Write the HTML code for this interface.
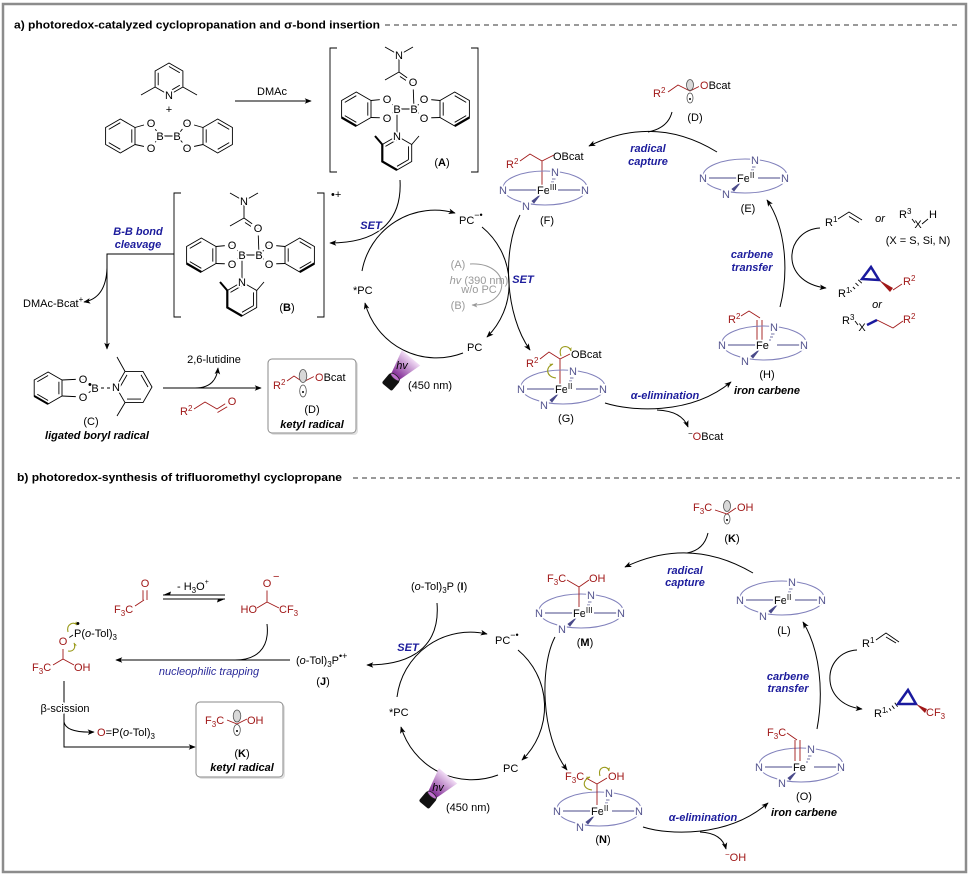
<!DOCTYPE html>
<html><head><meta charset="utf-8">
<style>
html,body{margin:0;padding:0;background:#fff;}
svg{display:block;}
text{font-family:"Liberation Sans",Arial,Helvetica,sans-serif;font-size:11px;fill:#000;}
.h{paint-order:stroke;stroke:#fff;stroke-width:3.5px;stroke-linejoin:round;}
.ho{stroke-width:7px;}
.r{fill:#a01818;}
.sb{fill:#1c1c9c;font-weight:bold;font-style:italic;}
.nb{fill:#55558f;}
.gy{fill:#9a9a9a;}
.bi{font-weight:bold;font-style:italic;}
.b{font-weight:bold;}
.m{text-anchor:middle;}
.e{text-anchor:end;}
</style></head><body>
<svg width="971" height="878" viewBox="0 0 971 878" xmlns="http://www.w3.org/2000/svg">
<defs>
<marker id="ah" viewBox="0 0 10 10" refX="9" refY="5" markerWidth="7" markerHeight="7" markerUnits="userSpaceOnUse" orient="auto"><path d="M0,1 L10,5 L0,9 L2.5,5 Z" fill="#000"/></marker>
<marker id="ahg" viewBox="0 0 10 10" refX="9" refY="5" markerWidth="6" markerHeight="6" markerUnits="userSpaceOnUse" orient="auto"><path d="M0,1 L10,5 L0,9 L2.5,5 Z" fill="#999"/></marker>
<marker id="aho" viewBox="0 0 10 10" refX="9" refY="5" markerWidth="4" markerHeight="4" markerUnits="userSpaceOnUse" orient="auto"><path d="M0,1 L10,5 L0,9 L2.5,5 Z" fill="#9a9a1a"/></marker>
<linearGradient id="cone" x1="0" y1="0" x2="1" y2="0"><stop offset="0" stop-color="#7b2190"/><stop offset="1" stop-color="#f2ddf6"/></linearGradient>
<g id="por" fill="none">
<ellipse cx="0" cy="-2" rx="42" ry="17" stroke="#8080bb" stroke-width="1"/>
<path d="M-36,0 H-8 M13,0 H36" stroke="#4a4a8a" stroke-width="1"/>
<path d="M5,-5 h2 M6,-8 h3 M7,-11 h3.5" stroke="#4a4a8a" stroke-width="0.8"/>
<path d="M-5,5 L-13,11 L-11,13 Z" fill="#4a4a8a" stroke="#4a4a8a" stroke-width="0.8"/>
</g>
<g id="cpx" fill="none" stroke="#000" stroke-width="0.9">
<path d="M399,55 L385,47 M399,55 L413,47 M399,55 L399,72 L385,80 M399,72 L413,82 M400,76.5 L410,83"/>
<path d="M413,82 L414,109 M397,109 L397,136"/>
<path d="M356.3,92 L371,100.5 L371,117.5 L356.3,126 L341.6,117.5 L341.6,100.5 Z"/>
<path d="M344.8,102.4 L356.3,95.7 M367.8,102.4 L367.8,115.6 M356.3,122.3 L344.8,115.6"/>
<path d="M356.3,126 L341.6,117.5" stroke-width="2.2"/>
<path d="M371,100.5 L387,99 L397,109 L387,118 L371,117.5 M397,109 L414,109 M440,100.5 L424,99 L414,109 L424,118 L440,117.5"/>
<path d="M454.7,92 L469.4,100.5 L469.4,117.5 L454.7,126 L440,117.5 L440,100.5 Z"/>
<path d="M443.2,115.6 L443.2,102.4 M454.7,95.7 L466.2,102.4 M466.2,115.6 L454.7,122.3"/>
<path d="M469.4,117.5 L454.7,126" stroke-width="2.2"/>
<path d="M397,136 L411.7,144.5 L411.7,161.5 L397,170 L382.3,161.5 L382.3,144.5 Z"/>
<path d="M408.5,146.4 L408.5,159.6 M385.5,146.4 L397,139.7 M397,166.3 L408.5,159.6"/>
<path d="M382.3,144.5 L382.3,161.5 L397,170" stroke-width="2.2"/>
<path d="M382.3,144.5 L375,136" stroke-width="2"/>
<path d="M411.7,144.5 L419,136"/>
</g>
</defs>

<rect x="3" y="4" width="963" height="868" fill="#fff" stroke="#8c8c8c" stroke-width="2.5"/>

<!-- titles -->
<text x="14" y="28.5" class="b" textLength="366" lengthAdjust="spacingAndGlyphs">a) photoredox-catalyzed cyclopropanation and σ-bond insertion</text>
<line x1="385" y1="25" x2="960" y2="25" stroke="#333" stroke-width="1" stroke-dasharray="5,4"/>
<text x="17" y="481" class="b" textLength="325" lengthAdjust="spacingAndGlyphs">b) photoredox-synthesis of trifluoromethyl cyclopropane</text>
<line x1="353" y1="478" x2="960" y2="478" stroke="#333" stroke-width="1" stroke-dasharray="5,4"/>

<!-- ===== PART A lines ===== -->
<g fill="none" stroke="#000" stroke-width="0.9">
<path d="M169,63 L182.9,71 L182.9,87 L169,95 L155.1,87 L155.1,71 Z"/>
<path d="M169,66.5 L179.8,72.75 M179.8,85.25 L172,89.8 M158.2,85.25 L158.2,72.75"/>
<path d="M155.1,87 L141,95 M182.9,87 L197,95"/>
<path d="M120.3,119 L135,127.5 L135,144.5 L120.3,153 L105.6,144.5 L105.6,127.5 Z"/>
<path d="M108.8,129.4 L120.3,122.7 M131.8,129.4 L131.8,142.6 M120.3,149.3 L108.8,142.6"/>
<path d="M217.7,119 L232.4,127.5 L232.4,144.5 L217.7,153 L203,144.5 L203,127.5 Z"/>
<path d="M206.2,142.6 L206.2,129.4 M217.7,122.7 L229.2,129.4 M229.2,142.6 L217.7,149.3"/>
<path d="M135,127.5 L151,123 L160,136 L151,148 L135,144.5 M160,136 L177,136 M203,127.5 L187,123 L177,136 L187,148 L203,144.5"/>
<path d="M337,48 H330 V172 H337 M471,48 H478 V172 H471"/>
<path d="M181,193 H174 V317 H181 M317,193 H324 V317 H317"/>
<path d="M48.1,372 L62,380 L62,396 L48.1,404 L34.2,396 L34.2,380 Z"/>
<path d="M37.3,381.75 L48.1,375.5 M58.9,381.75 L58.9,394.25 M48.1,400.5 L37.3,394.25"/>
<path d="M48.1,404 L34.2,396" stroke-width="2"/>
<path d="M62,380 L83,379 L95,388 L83,397 L62,396"/>
<path d="M101,388 L104,388 M107,388 L110,388"/>
<path d="M152,387 L143,371.4 L125,371.4 L116,387 L125,402.6 L143,402.6 Z"/>
<path d="M120,387 L127,374.9 M141,374.9 L148,387 M141,399.1 L127,399.1"/>
<path d="M125,371.4 L117,357 M125,402.6 L117,416"/>
</g>
<use href="#cpx"/>
<use href="#cpx" transform="translate(-155,146)"/>

<!-- red structures part a -->
<g fill="none" stroke="#a01818" stroke-width="0.9">
<path d="M194,409 L205,402 L217,409 L228,402 M217.5,412.5 L228.5,406"/>
<path d="M287,381 L294,376 L303,382 L315,376"/>
<path d="M668,92 L678,85 L690,91 L700,86"/>
<path d="M520,161 L530,154 L542,161 L554,155 M542,161 L542,185"/>
<path d="M540,359 L549,352 L560,359 L570,354 M560,359 L560,384"/>
<path d="M741,316 L749,311 L760,318 M757,320 L757,340 M762,320 L762,340"/>
<path d="M893,290 L902,284 M877,320 L893,328 L903,321"/>
</g>

<!-- orbitals -->
<g stroke="#555" stroke-width="0.8">
<ellipse cx="690" cy="85" rx="3.5" ry="5.5" fill="#d8d8d8"/><ellipse cx="690" cy="98" rx="3" ry="5" fill="#fff"/><circle cx="690" cy="99" r="1" fill="#000" stroke="none"/>
<ellipse cx="727" cy="506" rx="3.5" ry="5.5" fill="#d8d8d8"/><ellipse cx="727" cy="519" rx="3" ry="5" fill="#fff"/><circle cx="727" cy="520" r="1" fill="#000" stroke="none"/>
</g>

<!-- boxes -->
<rect x="270" y="361" width="88" height="74" rx="4" fill="#e2e2e2"/>
<rect x="268" y="359" width="88" height="74" rx="4" fill="#fff" stroke="#8a8a8a" stroke-width="1"/>
<rect x="198" y="704" width="87" height="75" rx="4" fill="#e2e2e2"/>
<rect x="196" y="702" width="87" height="75" rx="4" fill="#fff" stroke="#8a8a8a" stroke-width="1"/>
<g stroke="#a01818" stroke-width="0.9" fill="none">
<path d="M287,381 L294,376 L303,382 L315,376"/>
<path d="M227,720 L237,724 L247,719"/>
<path d="M715,510 L727,514 L736,508"/>
</g>
<ellipse cx="303" cy="376" rx="3.8" ry="6.5" fill="#d8d8d8" stroke="#555" stroke-width="0.8"/><ellipse cx="303" cy="391" rx="3.3" ry="6" fill="#fff" stroke="#555" stroke-width="0.8"/><circle cx="303" cy="392" r="1"/>
<ellipse cx="237" cy="716" rx="3.8" ry="6" fill="#d8d8d8" stroke="#555" stroke-width="0.8"/><ellipse cx="237" cy="730" rx="3.3" ry="5.5" fill="#fff" stroke="#555" stroke-width="0.8"/><circle cx="237" cy="731" r="1"/>

<!-- porphyrins -->
<use href="#por" x="545" y="190"/>
<use href="#por" x="745" y="178"/>
<use href="#por" x="563" y="389"/>
<use href="#por" x="764" y="345"/>
<use href="#por" x="581" y="613"/>
<use href="#por" x="782" y="600"/>
<use href="#por" x="599" y="811"/>
<use href="#por" x="801" y="767"/>

<!-- red structures part b -->
<g fill="none" stroke="#a01818" stroke-width="0.9">
<path d="M567,580 L579,587 L589,580 M579,587 L579,607"/>
<path d="M586,778 L597,784 L607,778 M597,784 L597,805"/>
<path d="M787,733 L797,740 M795,740 L795,761 M800,740 L800,761"/>
<path d="M135,606 L144,600 M143,600 L143,589 M147,600 L147,589"/>
<path d="M267,590 L267,602 L257,608 M267,602 L279,608"/>
<path d="M67,639 L73,635" stroke="#000"/>
<path d="M63,649 L63,659 L53,665 M63,659 L74,665"/>
</g>

<!-- cyclopropanes & alkenes -->
<g fill="none" stroke="#000" stroke-width="0.9">
<path d="M838,219 L849,212 L862,220 M849,216.5 L859,222.5"/>
<path d="M912,219 L915,223 M922,224 L928,219"/>
<path d="M850.3,290.3 L851.7,291.7 M852.9,287 L855.1,289 M855.5,283.1 L858.5,285.9 M858.2,279.8 L861.8,283.2"/>
<path d="M855,321 L858,325"/>
<path d="M876,640 L886,633 L899,642 M886,637 L896,643"/>
<path d="M886.5,711 L887.5,712.5 M889.2,708.3 L891,710.7 M892,705.6 L894.4,708.8 M894.8,702.8 L897.6,706.8"/>
</g>
<path d="M862,279 L871,267 L879,280 Z" fill="none" stroke="#1a1a9e" stroke-width="2.5" stroke-linejoin="miter"/>
<path d="M867,325 L877,320" stroke="#1a1a9e" stroke-width="2.5"/>
<polygon points="879,280 893,288 890,292" fill="#a01818"/>
<path d="M898,704 L908,690 L916,704 Z" fill="none" stroke="#1a1a9e" stroke-width="2.5" stroke-linejoin="miter"/>
<polygon points="916,704 927,709 925,713" fill="#a01818"/>

<!-- ===== ARROWS ===== -->
<g fill="none" stroke="#000" stroke-width="1">
<path d="M235,101 L311,101" marker-end="url(#ah)"/>
<path d="M174,254 L107,254 L107,349" marker-end="url(#ah)"/>
<path d="M107,268 Q106,298 84,302" marker-end="url(#ah)"/>
<path d="M163,388 L261,388" marker-end="url(#ah)"/>
<path d="M195,388 Q216,388 218,368" marker-end="url(#ah)"/>
<path d="M362,271 A74,74 0 0 1 455,213" marker-end="url(#ah)"/>
<path d="M482,227 A74,74 0 0 1 487,337" marker-end="url(#ah)"/>
<path d="M463,353 A74,74 0 0 1 365,303" marker-end="url(#ah)"/>
<path d="M400,180 C402,215 385,243 330,243" marker-end="url(#ah)"/>
<path d="M520,215 C502,250 505,315 530,350" marker-end="url(#ah)"/>
<path d="M717,152 Q655,114 589,146" marker-end="url(#ah)"/>
<path d="M672,112 Q668,128 648,132"/>
<path d="M605,403 C630,411 690,416 731,382" marker-end="url(#ah)"/>
<path d="M657,410 Q682,411 688,427" marker-end="url(#ah)"/>
<path d="M780,307 C789,272 786,228 767,200" marker-end="url(#ah)"/>
<path d="M820,228 C785,230 778,282 826,288" marker-end="url(#ah)"/>
<path d="M290,660 L116,660" marker-end="url(#ah)"/>
<path d="M267,624 C270,650 255,660 235,660"/>
<path d="M64,681 L64,747 L195,747" marker-end="url(#ah)"/>
<path d="M64,722 Q66,733 94,732" marker-end="url(#ah)"/>
<path d="M225,595 L163,595 M163,599 L225,599"/>
<path d="M397,697 A74,74 0 0 1 487,634" marker-end="url(#ah)"/>
<path d="M518,650 A74,74 0 0 1 522,760" marker-end="url(#ah)"/>
<path d="M498,775 A74,74 0 0 1 401,727" marker-end="url(#ah)"/>
<path d="M437,603 C440,640 420,665 367,665" marker-end="url(#ah)"/>
<path d="M555,637 C540,665 540,735 567,770" marker-end="url(#ah)"/>
<path d="M753,573 Q690,536 625,567" marker-end="url(#ah)"/>
<path d="M708,533 Q704,550 687,553"/>
<path d="M643,827 C668,835 728,838 768,803" marker-end="url(#ah)"/>
<path d="M700,832 Q722,833 726,849" marker-end="url(#ah)"/>
<path d="M817,729 C824,692 820,650 803,622" marker-end="url(#ah)"/>
<path d="M857,650 C822,652 818,704 862,709" marker-end="url(#ah)"/>
</g>
<polygon points="163,595 171,591.5 170,595" fill="#000"/>
<polygon points="225,599 217,602.5 218,599" fill="#000"/>
<path d="M470,264 C512,262 512,306 472,305" fill="none" stroke="#999" stroke-width="1" marker-end="url(#ahg)"/>

<!-- olive curved arrows -->
<g fill="none" stroke="#9a9a1a" stroke-width="1.1">
<path d="M561,356 C557,345 569,344 571,351" marker-end="url(#aho)"/>
<path d="M556,378 C546,377 545,367 553,364" marker-end="url(#aho)"/>
<path d="M600,776 C597,766 608,765 609,771" marker-end="url(#aho)"/>
<path d="M592,790 C582,789 582,780 590,777" marker-end="url(#aho)"/>
<path d="M68,632 C66,624 74,621 77,625" marker-end="url(#aho)"/>
<path d="M68,651 C74,652 76,647 74,643" marker-end="url(#aho)"/>
</g>

<!-- flashlights -->
<g transform="translate(395,377) rotate(-50)">
<polygon points="0,-5 25,-12 25,12 0,5" fill="url(#cone)"/>
<rect x="-13" y="-6.5" width="13" height="13" rx="2" fill="#111"/>
<ellipse cx="0" cy="0" rx="2" ry="5.5" fill="#c070d0" stroke="#222" stroke-width="0.8"/>
</g>
<g transform="translate(432,795) rotate(-50)">
<polygon points="0,-5 25,-12 25,12 0,5" fill="url(#cone)"/>
<rect x="-13" y="-6.5" width="13" height="13" rx="2" fill="#111"/>
<ellipse cx="0" cy="0" rx="2" ry="5.5" fill="#c070d0" stroke="#222" stroke-width="0.8"/>
</g>

<!-- ===== TEXT PART A ===== -->
<text x="169" y="99" class="m h">N</text>
<text x="169" y="113" class="m">+</text>
<text x="151" y="127" class="m h ho">O</text><text x="151" y="152" class="m h ho">O</text>
<text x="160" y="140" class="m h">B</text><text x="177" y="140" class="m h">B</text>
<text x="187" y="127" class="m h ho">O</text><text x="187" y="152" class="m h ho">O</text>
<text x="272" y="95" class="m">DMAc</text>

<text x="399" y="59" class="m h">N</text><text x="413" y="86" class="m h ho">O</text>
<text x="397" y="113" class="m h">B</text><text x="414" y="113" class="m h">B</text>
<text x="387" y="103" class="m h ho">O</text><text x="387" y="122" class="m h ho">O</text>
<text x="424" y="103" class="m h ho">O</text><text x="424" y="122" class="m h ho">O</text>
<text x="397" y="140" class="m h">N</text>
<text x="442" y="166" class="m">(<tspan class="b">A</tspan>)</text>

<text x="244" y="205" class="m h">N</text><text x="258" y="232" class="m h ho">O</text>
<text x="242" y="259" class="m h">B</text><text x="259" y="259" class="m h">B</text>
<text x="232" y="249" class="m h ho">O</text><text x="232" y="268" class="m h ho">O</text>
<text x="269" y="249" class="m h ho">O</text><text x="269" y="268" class="m h ho">O</text>
<text x="242" y="286" class="m h">N</text>
<text x="287" y="311" class="m">(<tspan class="b">B</tspan>)</text>
<text x="331" y="198" font-size="10">•+</text>

<text x="138" y="235" class="m sb">B-B bond</text>
<text x="138" y="248" class="m sb">cleavage</text>
<text x="23" y="307">DMAc-Bcat<tspan dy="-5" font-size="8">+</tspan></text>

<text x="83" y="383" class="m h ho">O</text><text x="83" y="401" class="m h ho">O</text>
<text x="95" y="392" class="m h">B</text>
<text x="88" y="388" font-size="9">•</text>
<text x="116" y="391" class="m h">N</text>
<text x="91" y="425" class="m">(C)</text>
<text x="97" y="439" class="m bi">ligated boryl radical</text>
<text x="214" y="363" class="m">2,6-lutidine</text>
<text x="180" y="415" class="r">R<tspan dy="-4" font-size="8">2</tspan></text>
<text x="232" y="405" class="m r h ho">O</text>

<text x="273" y="389" class="r">R<tspan dy="-4" font-size="8">2</tspan></text>
<text x="315" y="381" class="h"><tspan class="r">O</tspan>Bcat</text>
<text x="312" y="413" class="m">(D)</text>
<text x="312" y="428" class="m bi">ketyl radical</text>

<text x="371" y="229" class="m sb h">SET</text>
<text x="459" y="224">PC<tspan dy="-6" font-size="9">−•</tspan></text>
<text x="353" y="294">*PC</text>
<text x="467" y="351">PC</text>
<text x="458" y="268" class="m gy">(A)</text>
<text x="479" y="284" class="m gy" font-size="9.5"><tspan font-style="italic">hv</tspan> (390 nm)</text>
<text x="479" y="293" class="m gy" font-size="9.5">w/o PC</text>
<text x="458" y="309" class="m gy">(B)</text>
<text x="402" y="369" class="m" font-style="italic" font-size="11">hv</text>
<text x="408" y="389">(450 nm)</text>
<text x="523" y="283" class="m sb h">SET</text>

<text x="653" y="97" class="r">R<tspan dy="-4" font-size="8">2</tspan></text>
<text x="700" y="89" class="h"><tspan class="r">O</tspan>Bcat</text>
<text x="695" y="121" class="m">(D)</text>
<text x="648" y="152" class="m sb">radical</text>
<text x="648" y="165" class="m sb">capture</text>

<!-- F -->
<text x="506" y="168" class="r">R<tspan dy="-4" font-size="8">2</tspan></text>
<text x="553" y="160">OBcat</text>
<text x="503" y="194" class="m nb h">N</text><text x="585" y="194" class="m nb h">N</text>
<text x="555" y="176" class="m nb h">N</text><text x="526" y="210" class="m nb h">N</text>
<text x="537" y="194" class="h">Fe<tspan dy="-4" font-size="8">III</tspan></text>
<text x="547" y="224" class="m">(F)</text>
<!-- E -->
<text x="703" y="182" class="m nb h">N</text><text x="785" y="182" class="m nb h">N</text>
<text x="755" y="164" class="m nb h">N</text><text x="726" y="198" class="m nb h">N</text>
<text x="737" y="182" class="h">Fe<tspan dy="-4" font-size="8">II</tspan></text>
<text x="748" y="212" class="m">(E)</text>
<!-- G -->
<text x="526" y="367" class="r">R<tspan dy="-4" font-size="8">2</tspan></text>
<text x="571" y="358">OBcat</text>
<text x="521" y="393" class="m nb h">N</text><text x="603" y="393" class="m nb h">N</text>
<text x="573" y="375" class="m nb h">N</text><text x="544" y="409" class="m nb h">N</text>
<text x="555" y="393" class="h">Fe<tspan dy="-4" font-size="8">II</tspan></text>
<text x="566" y="422" class="m">(G)</text>
<!-- H -->
<text x="728" y="323" class="r">R<tspan dy="-4" font-size="8">2</tspan></text>
<text x="722" y="349" class="m nb h">N</text><text x="804" y="349" class="m nb h">N</text>
<text x="774" y="331" class="m nb h">N</text><text x="745" y="365" class="m nb h">N</text>
<text x="756" y="349" class="h">Fe</text>
<text x="767" y="378" class="m">(H)</text>
<text x="767" y="394" class="m bi">iron carbene</text>

<text x="665" y="399" class="m sb">α-elimination</text>
<text x="688" y="440"><tspan dy="-4" font-size="8">−</tspan><tspan dy="4" class="r">O</tspan>Bcat</text>
<text x="752" y="258" class="m sb">carbene</text>
<text x="752" y="271" class="m sb">transfer</text>

<text x="825" y="226">R<tspan dy="-4" font-size="8">1</tspan></text>
<text x="880" y="222" class="m" font-style="italic">or</text>
<text x="899" y="218">R<tspan dy="-4" font-size="8">3</tspan></text>
<text x="918" y="228" class="m">X</text>
<text x="933" y="218" class="m">H</text>
<text x="918" y="244" class="m">(X = S, Si, N)</text>
<text x="838" y="297">R<tspan dy="-4" font-size="8">1</tspan></text>
<text x="903" y="285" class="r">R<tspan dy="-4" font-size="8">2</tspan></text>
<text x="877" y="308" class="m" font-style="italic">or</text>
<text x="842" y="324">R<tspan dy="-4" font-size="8">3</tspan></text>
<text x="862" y="331" class="m">X</text>
<text x="903" y="323" class="r">R<tspan dy="-4" font-size="8">2</tspan></text>

<!-- ===== TEXT PART B ===== -->
<text x="114" y="613" class="r">F<tspan dy="3" font-size="8">3</tspan><tspan dy="-3">C</tspan></text>
<text x="145" y="587" class="m r h ho">O</text>
<text x="177" y="590">- H<tspan dy="3" font-size="8">3</tspan><tspan dy="-3">O</tspan><tspan dy="-6" font-size="7">+</tspan></text>
<text x="267" y="587" class="m r h ho">O</text>
<text x="273" y="580" class="r" font-size="9">−</text>
<text x="257" y="613" class="e r">HO</text>
<text x="279" y="613" class="r">CF<tspan dy="3" font-size="8">3</tspan></text>

<text x="63" y="645" class="m r h ho">O</text>
<text x="74" y="637">P(<tspan font-style="italic">o</tspan>-Tol)<tspan dy="3" font-size="8">3</tspan></text>
<text x="76" y="627" font-size="7">•</text>
<text x="32" y="671" class="r">F<tspan dy="3" font-size="8">3</tspan><tspan dy="-3">C</tspan></text>
<text x="74" y="671" class="r">OH</text>
<text x="209" y="675" class="m" font-style="italic" style="fill:#2a2a9a">nucleophilic trapping</text>
<text x="296" y="664">(<tspan font-style="italic">o</tspan>-Tol)<tspan dy="3" font-size="8">3</tspan><tspan dy="-3">P</tspan><tspan dy="-5" font-size="9">•+</tspan></text>
<text x="323" y="685" class="m">(<tspan class="b">J</tspan>)</text>
<text x="65" y="712" class="m h">β-scission</text>
<text x="97" y="736"><tspan class="r">O</tspan>=P(<tspan font-style="italic">o</tspan>-Tol)<tspan dy="3" font-size="8">3</tspan></text>

<text x="205" y="724" class="r">F<tspan dy="3" font-size="8">3</tspan><tspan dy="-3">C</tspan></text>
<text x="247" y="724" class="r">OH</text>
<text x="242" y="757" class="m">(<tspan class="b">K</tspan>)</text>
<text x="242" y="771" class="m bi">ketyl radical</text>

<text x="411" y="590">(<tspan font-style="italic">o</tspan>-Tol)<tspan dy="3" font-size="8">3</tspan><tspan dy="-3">P  (</tspan><tspan class="b">I</tspan>)</text>
<text x="408" y="651" class="m sb h">SET</text>
<text x="495" y="644">PC<tspan dy="-6" font-size="9">−•</tspan></text>
<text x="389" y="716">*PC</text>
<text x="503" y="772">PC</text>
<text x="438" y="791" class="m" font-style="italic">hv</text>
<text x="446" y="811">(450 nm)</text>

<text x="693" y="511" class="r">F<tspan dy="3" font-size="8">3</tspan><tspan dy="-3">C</tspan></text>
<text x="737" y="511" class="r">OH</text>
<text x="732" y="542" class="m">(<tspan class="b">K</tspan>)</text>
<text x="685" y="574" class="m sb">radical</text>
<text x="685" y="586" class="m sb">capture</text>

<!-- M -->
<text x="547" y="582" class="r">F<tspan dy="3" font-size="8">3</tspan><tspan dy="-3">C</tspan></text>
<text x="589" y="582" class="r">OH</text>
<text x="539" y="617" class="m nb h">N</text><text x="621" y="617" class="m nb h">N</text>
<text x="591" y="599" class="m nb h">N</text><text x="562" y="633" class="m nb h">N</text>
<text x="573" y="617" class="h">Fe<tspan dy="-4" font-size="8">III</tspan></text>
<text x="585" y="646" class="m">(<tspan class="b">M</tspan>)</text>
<!-- L -->
<text x="740" y="604" class="m nb h">N</text><text x="822" y="604" class="m nb h">N</text>
<text x="792" y="586" class="m nb h">N</text><text x="763" y="620" class="m nb h">N</text>
<text x="774" y="604" class="h">Fe<tspan dy="-4" font-size="8">II</tspan></text>
<text x="784" y="634" class="m">(L)</text>
<!-- N -->
<text x="565" y="780" class="r">F<tspan dy="3" font-size="8">3</tspan><tspan dy="-3">C</tspan></text>
<text x="608" y="780" class="r">OH</text>
<text x="557" y="815" class="m nb h">N</text><text x="639" y="815" class="m nb h">N</text>
<text x="609" y="797" class="m nb h">N</text><text x="580" y="831" class="m nb h">N</text>
<text x="591" y="815" class="h">Fe<tspan dy="-4" font-size="8">II</tspan></text>
<text x="603" y="843" class="m">(<tspan class="b">N</tspan>)</text>
<!-- O -->
<text x="767" y="736" class="r">F<tspan dy="3" font-size="8">3</tspan><tspan dy="-3">C</tspan></text>
<text x="759" y="771" class="m nb h">N</text><text x="841" y="771" class="m nb h">N</text>
<text x="811" y="753" class="m nb h">N</text><text x="782" y="787" class="m nb h">N</text>
<text x="793" y="771" class="h">Fe</text>
<text x="804" y="800" class="m">(O)</text>
<text x="804" y="816" class="m bi">iron carbene</text>

<text x="703" y="821" class="m sb">α-elimination</text>
<text x="725" y="861"><tspan dy="-4" font-size="8" class="r">−</tspan><tspan dy="4" class="r">OH</tspan></text>
<text x="788" y="680" class="m sb">carbene</text>
<text x="788" y="692" class="m sb">transfer</text>

<text x="862" y="647">R<tspan dy="-4" font-size="8">1</tspan></text>
<text x="874" y="717">R<tspan dy="-4" font-size="8">1</tspan></text>
<text x="926" y="716" class="r">CF<tspan dy="3" font-size="8">3</tspan></text>
</svg>
</body></html>
